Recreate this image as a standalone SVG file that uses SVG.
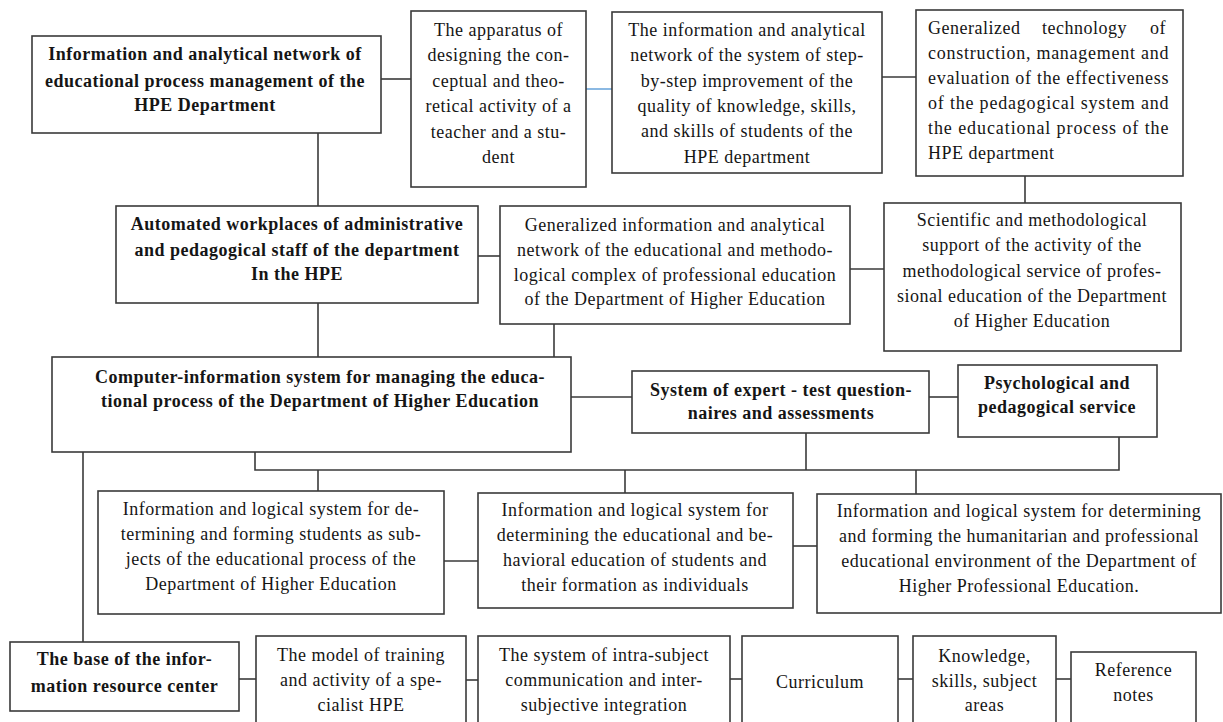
<svg xmlns="http://www.w3.org/2000/svg" width="1223" height="722" viewBox="0 0 1223 722">
<style>
.box{fill:#fff;stroke:#3a3a3a;stroke-width:1.6}
.c{fill:none;stroke:#3a3a3a;stroke-width:1.6}
.cb{fill:none;stroke:#6fa8dc;stroke-width:1.6}
text{font-family:"Liberation Serif","Times New Roman",serif;font-size:18px;fill:#151515;letter-spacing:0.5px}
.b{font-weight:bold}
.m{text-anchor:middle}
</style>
<rect width="1223" height="722" fill="#fff"/>
<g id="connectors">
<path class="c" d="M381,79H411"/>
<path class="cb" d="M586,89H612"/>
<path class="c" d="M882,77H916"/>
<path class="c" d="M1025,176V203"/>
<path class="c" d="M318,133V206"/>
<path class="c" d="M478,256H500"/>
<path class="c" d="M850,269H884"/>
<path class="c" d="M318,303V357"/>
<path class="c" d="M554,324V357"/>
<path class="c" d="M571,397H632"/>
<path class="c" d="M929,397H958"/>
<path class="c" d="M255,452V470H1119V437"/>
<path class="c" d="M806,433V470"/>
<path class="c" d="M318,470V491"/>
<path class="c" d="M625,470V493"/>
<path class="c" d="M916,470V494"/>
<path class="c" d="M444,561H478"/>
<path class="c" d="M793,546H817"/>
<path class="c" d="M83,452V642"/>
<path class="c" d="M239,679H256"/>
<path class="c" d="M466,680H478"/>
<path class="c" d="M730,679H742"/>
<path class="c" d="M898,679H913"/>
<path class="c" d="M1056,679H1071"/>
</g>
<g id="n-info-network">
<rect class="box" x="32" y="36" width="349" height="97"/>
<text class="b m" x="205" y="60">Information and analytical network of</text>
<text class="b m" x="205" y="87">educational process management of the</text>
<text class="b m" x="205" y="111">HPE Department</text>
</g>
<g id="n-apparatus">
<rect class="box" x="411" y="11" width="175" height="176"/>
<text class="m" x="498.5" y="36">The apparatus of</text>
<text class="m" x="498.5" y="61">designing the con-</text>
<text class="m" x="498.5" y="87">ceptual and theo-</text>
<text class="m" x="498.5" y="112">retical activity of a</text>
<text class="m" x="498.5" y="138">teacher and a stu-</text>
<text class="m" x="498.5" y="163">dent</text>
</g>
<g id="n-step-network">
<rect class="box" x="612" y="12" width="270" height="161"/>
<text class="m" x="747" y="36">The information and analytical</text>
<text class="m" x="747" y="61">network of the system of step-</text>
<text class="m" x="747" y="87">by-step improvement of the</text>
<text class="m" x="747" y="112">quality of knowledge, skills,</text>
<text class="m" x="747" y="137">and skills of students of the</text>
<text class="m" x="747" y="163">HPE department</text>
</g>
<g id="n-generalized-tech">
<rect class="box" x="916" y="10" width="267" height="166"/>
<text y="34"><tspan x="928">Generalized</tspan> <tspan x="1042">technology</tspan> <tspan x="1150">of</tspan></text>
<text x="928" y="59" textLength="241">construction, management and</text>
<text x="928" y="84" textLength="241">evaluation of the effectiveness</text>
<text x="928" y="109" textLength="241">of the pedagogical system and</text>
<text x="928" y="134" textLength="241">the educational process of the</text>
<text x="928" y="159">HPE department</text>
</g>
<g id="n-automated">
<rect class="box" x="116" y="206" width="362" height="97"/>
<text class="b m" x="297" y="230">Automated workplaces of administrative</text>
<text class="b m" x="297" y="256">and pedagogical staff of the department</text>
<text class="b m" x="297" y="280">In the HPE</text>
</g>
<g id="n-generalized-info">
<rect class="box" x="500" y="206" width="350" height="118"/>
<text class="m" x="675" y="231">Generalized information and analytical</text>
<text class="m" x="675" y="256">network of the educational and methodo-</text>
<text class="m" x="675" y="281">logical complex of professional education</text>
<text class="m" x="675" y="305">of the Department of Higher Education</text>
</g>
<g id="n-scientific">
<rect class="box" x="884" y="203" width="297" height="148"/>
<text class="m" x="1032" y="226">Scientific and methodological</text>
<text class="m" x="1032" y="251">support of the activity of the</text>
<text class="m" x="1032" y="277">methodological service of profes-</text>
<text class="m" x="1032" y="302">sional education of the Department</text>
<text class="m" x="1032" y="327">of Higher Education</text>
</g>
<g id="n-computer-info">
<rect class="box" x="52" y="357" width="519" height="95"/>
<text class="b m" x="320" y="383">Computer-information system for managing the educa-</text>
<text class="b m" x="320" y="407">tional process of the Department of Higher Education</text>
</g>
<g id="n-expert-test">
<rect class="box" x="632" y="371" width="297" height="62"/>
<text class="b m" x="781" y="396">System of expert - test question-</text>
<text class="b m" x="781" y="419">naires and assessments</text>
</g>
<g id="n-psych-service">
<rect class="box" x="958" y="365" width="199" height="72"/>
<text class="b m" x="1057" y="389">Psychological and</text>
<text class="b m" x="1057" y="413">pedagogical service</text>
</g>
<g id="n-students-subjects">
<rect class="box" x="98" y="491" width="346" height="123"/>
<text class="m" x="271" y="515">Information and logical system for de-</text>
<text class="m" x="271" y="540">termining and forming students as sub-</text>
<text class="m" x="271" y="565">jects of the educational process of the</text>
<text class="m" x="271" y="590">Department of Higher Education</text>
</g>
<g id="n-behavioral">
<rect class="box" x="478" y="493" width="315" height="115"/>
<text class="m" x="635" y="516">Information and logical system for</text>
<text class="m" x="635" y="541">determining the educational and be-</text>
<text class="m" x="635" y="566">havioral education of students and</text>
<text class="m" x="635" y="591">their formation as individuals</text>
</g>
<g id="n-environment">
<rect class="box" x="817" y="494" width="404" height="119"/>
<text class="m" x="1019" y="517">Information and logical system for determining</text>
<text class="m" x="1019" y="542">and forming the humanitarian and professional</text>
<text class="m" x="1019" y="567">educational environment of the Department of</text>
<text class="m" x="1019" y="592">Higher Professional Education.</text>
</g>
<g id="n-base">
<rect class="box" x="10" y="642" width="229" height="69"/>
<text class="b m" x="124.5" y="665">The base of the infor-</text>
<text class="b m" x="124.5" y="692">mation resource center</text>
</g>
<g id="n-model">
<rect class="box" x="256" y="636" width="210" height="100"/>
<text class="m" x="361" y="661">The model of training</text>
<text class="m" x="361" y="686">and activity of a spe-</text>
<text class="m" x="361" y="711">cialist HPE</text>
</g>
<g id="n-intra-subject">
<rect class="box" x="478" y="636" width="252" height="100"/>
<text class="m" x="604" y="661">The system of intra-subject</text>
<text class="m" x="604" y="686">communication and inter-</text>
<text class="m" x="604" y="711">subjective integration</text>
</g>
<g id="n-curriculum">
<rect class="box" x="742" y="636" width="156" height="100"/>
<text class="m" x="820" y="688">Curriculum</text>
</g>
<g id="n-knowledge">
<rect class="box" x="913" y="636" width="143" height="100"/>
<text class="m" x="984.5" y="662">Knowledge,</text>
<text class="m" x="984.5" y="687">skills, subject</text>
<text class="m" x="984.5" y="711">areas</text>
</g>
<g id="n-reference">
<rect class="box" x="1071" y="652" width="125" height="84"/>
<text class="m" x="1133.5" y="676">Reference</text>
<text class="m" x="1133.5" y="701">notes</text>
</g>
</svg>
